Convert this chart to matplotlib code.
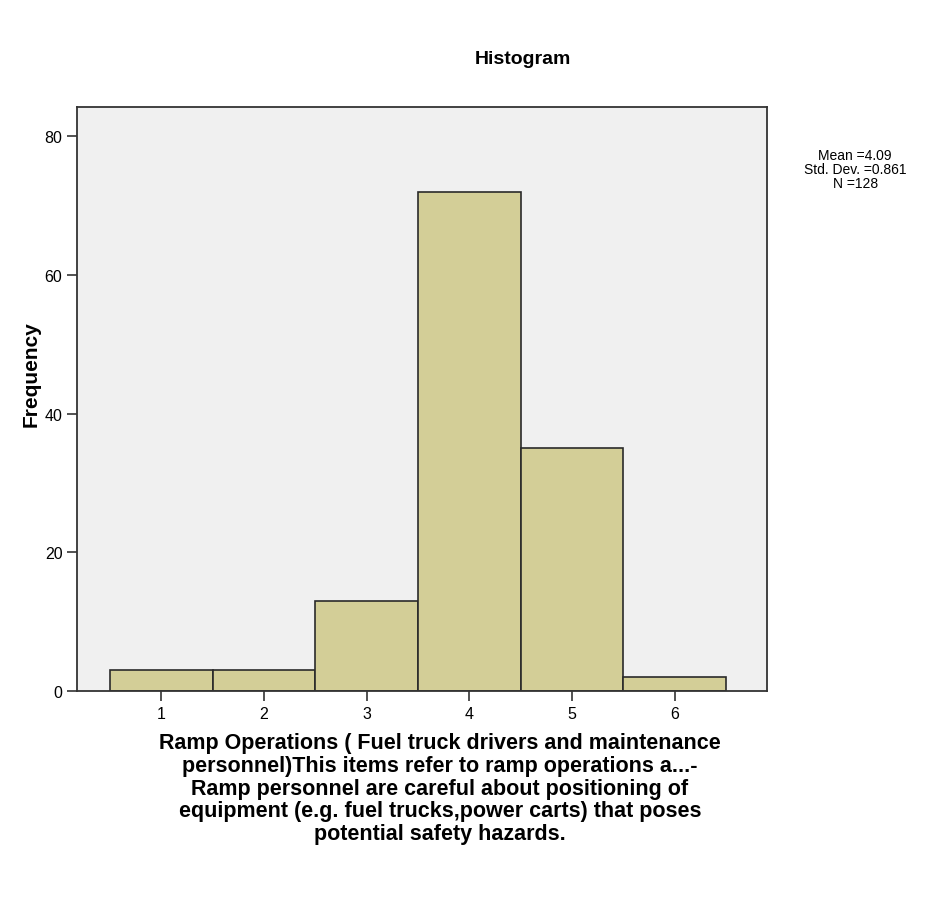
import matplotlib
matplotlib.use('Agg')
import matplotlib.pyplot as plt

# Data
categories = [1, 2, 3, 4, 5, 6]
frequencies = [3, 3, 13, 72, 35, 2]
y_ticks = [0, 20, 40, 60, 80]
stats_text = "Mean =4.09\nStd. Dev. =0.861\nN =128"
x_title = ("Ramp Operations ( Fuel truck drivers and maintenance\n"
           "personnel)This items refer to ramp operations a...-\n"
           "Ramp personnel are careful about positioning of\n"
           "equipment (e.g. fuel trucks,power carts) that poses\n"
           "potential safety hazards.")

plt.rcParams['font.family'] = ['Liberation Sans', 'DejaVu Sans']

fig = plt.figure(figsize=(9.48, 9.04), dpi=100)
ax = fig.add_axes([0.0812, 0.2345, 0.728, 0.646])
ax.set_facecolor('#f0f0f0')

ax.bar(categories, frequencies, width=1.0, color='#d3ce97', edgecolor='#2a2a2a', linewidth=1.2)

ax.set_xlim(0.18, 6.9)
ax.set_ylim(0, 84.2)
ax.set_xticks(categories)
ax.set_yticks(y_ticks)
ax.tick_params(axis='both', labelsize=11.5, length=7, width=1.2, color='#333333')
for s in ax.spines.values():
    s.set_linewidth(1.3)
    s.set_color('#333333')

ax.set_ylabel('Frequency', fontsize=15, fontweight='bold')
ax.yaxis.set_label_coords(-0.052, 0.545)

# multi-line x title placed as figure text so it can be centred like SPSS
fig.text(0.464, 0.127, x_title, ha='center', va='center', fontsize=15.5,
         fontweight='bold', linespacing=1.1)

fig.text(0.552, 0.934, 'Histogram', ha='center', va='center', fontsize=14, fontweight='bold')
fig.text(0.902, 0.812, stats_text, ha='center', va='center', fontsize=10, linespacing=1.0)

plt.savefig('out.png', dpi=100)
